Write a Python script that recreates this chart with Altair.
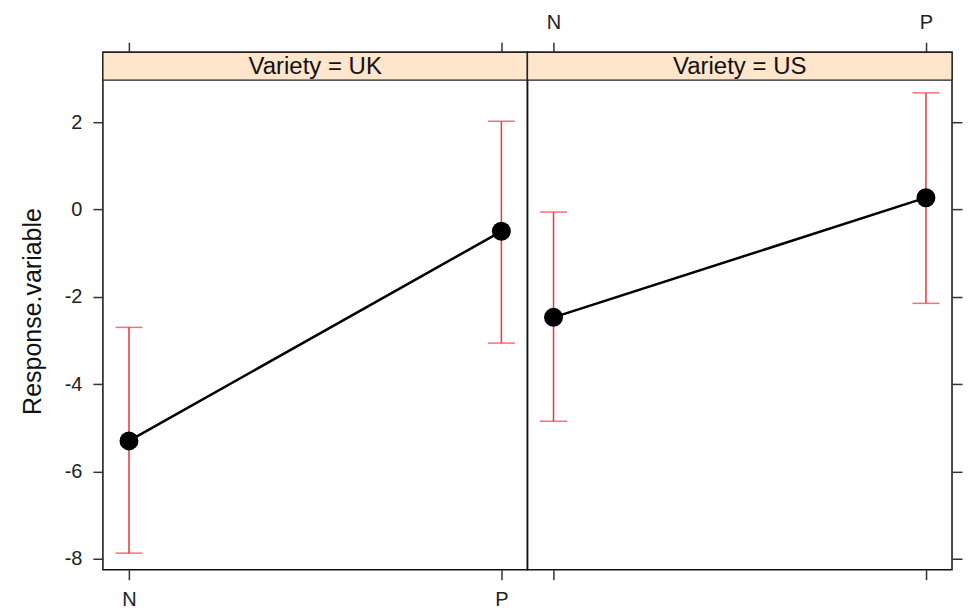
import altair as alt
import pandas as pd

# ---- data ----
varieties = ["UK", "UK", "US", "US"]
treatments = ["N", "P", "N", "P"]
x_index = [1, 2, 1, 2]
means = [-5.30, -0.50, -2.47, 0.27]
lowers = [-7.87, -3.06, -4.85, -2.15]
uppers = [-2.70, 2.02, -0.06, 2.67]
panel_names = ["UK", "US"]
y_ticks = [-8, -6, -4, -2, 0, 2]
x_ticks = [1, 2]

df = pd.DataFrame({
    "Variety": varieties,
    "Treatment": treatments,
    "xi": x_index,
    "mean": means,
    "lower": lowers,
    "upper": uppers,
})

XDOM = [0.93, 2.07]
YDOM = [-8.25, 3.6]
STRIP_LO = 2.96
W, H = 425, 518
RED = "#E8383F"
FONT = "Liberation Sans"
x_label_expr = "datum.value == 1 ? 'N' : 'P'"
y_label_expr = "datum.value < 0 ? '-' + abs(datum.value) : '' + datum.value"

xs = alt.Scale(domain=XDOM, nice=False, zero=False)
ys = alt.Scale(domain=YDOM, nice=False, zero=False)


def x_axis(orient, labels):
    return alt.Axis(orient=orient, values=x_ticks, labelExpr=x_label_expr, labels=labels,
                    title=None, grid=False, domain=False, tickSize=10, tickWidth=1.5,
                    tickColor="#333", labelFontSize=20, labelColor="#222",
                    labelFont=FONT, labelPadding=10)


def y_axis(orient, labels, title):
    kw = dict(orient=orient, values=y_ticks, labels=labels, labelExpr=y_label_expr,
              grid=False, domain=False,
              tickSize=10, tickWidth=1.5, tickColor="#333", labelFontSize=20,
              labelColor="#222", labelFont=FONT, labelPadding=11)
    if title:
        kw.update(title=title, titleFontSize=25, titleFont=FONT, titleFontWeight="normal",
                  titleColor="#111", titlePadding=19)
    else:
        kw.update(title=None)
    return alt.Axis(**kw)


def panel(name, left):
    d = df[df["Variety"] == name]
    base = alt.Chart(d)

    strip = alt.Chart(pd.DataFrame({"v": [name]})).mark_rect(
        fill="#FFE5CC", stroke="#222", strokeWidth=1.3
    ).encode(
        x=alt.X(datum=XDOM[0], type="quantitative", scale=xs,
                axis=x_axis("top", not left)),
        x2=alt.X2(datum=XDOM[1]),
        y=alt.Y(datum=STRIP_LO, type="quantitative", scale=ys, axis=None),
        y2=alt.Y2(datum=YDOM[1]),
    )
    strip_text = alt.Chart(pd.DataFrame({"v": [name]})).mark_text(
        font=FONT, fontSize=24, color="#111", baseline="middle", dy=1
    ).encode(
        x=alt.X(datum=1.5, type="quantitative", scale=xs, axis=None),
        y=alt.Y(datum=(STRIP_LO + YDOM[1]) / 2, type="quantitative", scale=ys, axis=None),
        text=alt.Text(value="Variety = " + name),
    )

    bars = base.mark_rule(color=RED, strokeWidth=1.5).encode(
        x=alt.X("xi:Q", scale=xs, axis=None),
        y=alt.Y("lower:Q", scale=ys, axis=None),
        y2="upper:Q",
    )
    cap_lo = base.mark_tick(color=RED, orient="horizontal", size=27, thickness=1.5).encode(
        x=alt.X("xi:Q", scale=xs, axis=None),
        y=alt.Y("lower:Q", scale=ys, axis=None),
    )
    cap_hi = base.mark_tick(color=RED, orient="horizontal", size=27, thickness=1.5).encode(
        x=alt.X("xi:Q", scale=xs, axis=None),
        y=alt.Y("upper:Q", scale=ys, axis=None),
    )
    line = base.mark_line(color="black", strokeWidth=2.5).encode(
        x=alt.X("xi:Q", scale=xs, axis=x_axis("bottom", left)),
        y=alt.Y("mean:Q", scale=ys,
                axis=y_axis("left" if left else "right", left,
                            "Response.variable" if left else None)),
    )
    pts = base.mark_circle(color="black", opacity=1, size=360).encode(
        x=alt.X("xi:Q", scale=xs, axis=None),
        y=alt.Y("mean:Q", scale=ys, axis=None),
    )
    return alt.layer(strip, strip_text, bars, cap_lo, cap_hi, line, pts).resolve_axis(
        x="independent", y="independent"
    ).properties(width=W, height=H)


chart = alt.hconcat(
    panel("UK", True), panel("US", False), spacing=0, bounds="flush"
).properties(
    padding={"left": 11, "top": 3, "right": 5, "bottom": 2},
    background="white",
).configure_view(
    stroke="#111", strokeWidth=1.5
)

chart.save("out.html", embed_options={"renderer": "svg", "actions": False})
